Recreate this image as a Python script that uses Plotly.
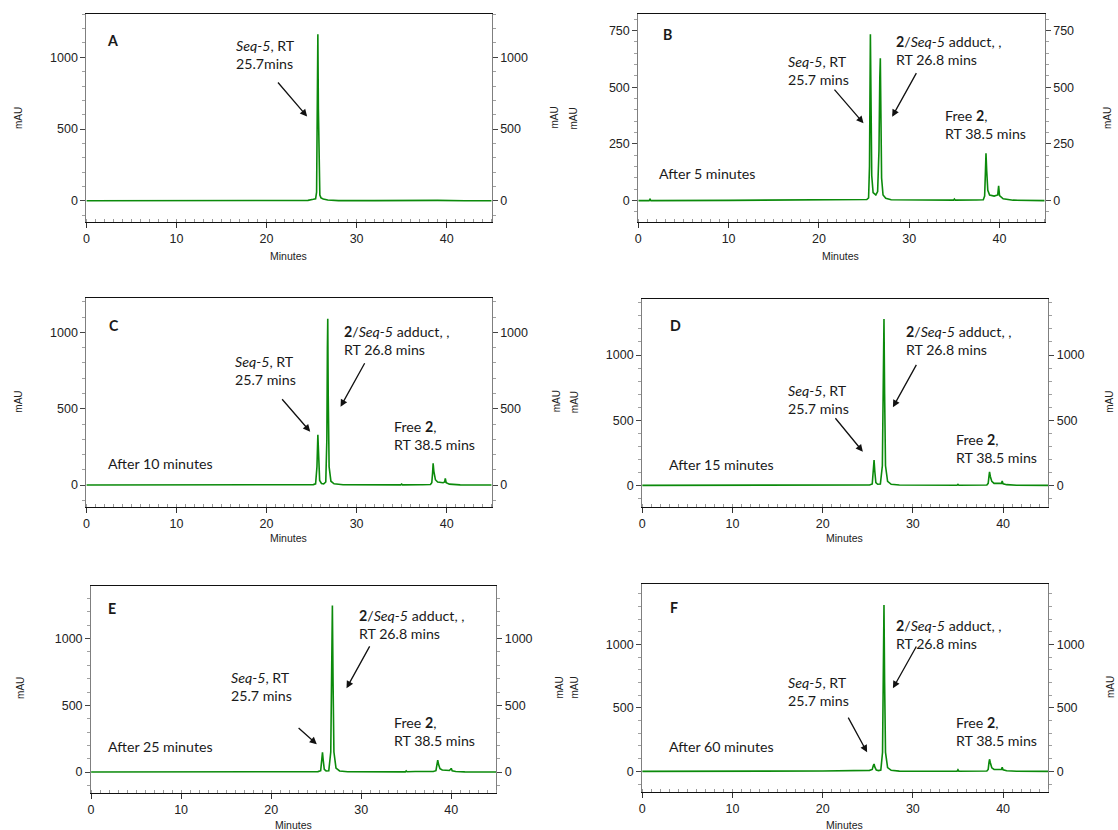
import plotly.graph_objects as go

# Retention times quoted in the peak labels (minutes)
RT_SEQ5 = 25.7
RT_ADDUCT = 26.8
RT_FREE2 = 38.5

# Chromatogram traces: retention time (min) and absorbance (mAU)
A_MIN = [0.0, 10.0, 20.0, 24.6, 25.2, 25.45, 25.56, 25.63, 25.7, 25.76, 25.83, 25.92, 26.05, 26.3, 26.8,
         28.0, 32.0, 35.0, 37.0, 39.0, 42.0, 45.0]
A_MAU = [0, 0, 1, 3, 10, 14, 60, 520, 1160, 640, 140, 40, 20, 12, 5,
         1, 1, 4, 6, 3, 0, 0]

B_MIN = [0.0, 1.2, 1.3, 1.4, 10.0, 20.0, 25.3, 25.5, 25.6, 25.65, 25.7, 25.76, 25.85, 26.0, 26.3, 26.5,
         26.65, 26.74, 26.8, 26.86, 26.94, 27.1, 27.4, 28.0, 34.9, 35.0, 35.1, 37.2, 37.3, 37.4, 38.2,
         38.35, 38.44, 38.5, 38.58, 38.7, 38.9, 39.4, 39.8, 39.9, 40.0, 40.4, 41.5, 45.0]
B_MAU = [0, 0, 6, 0, 1, 3, 5, 12, 150, 450, 734, 480, 110, 35, 25, 40,
         220, 540, 628, 400, 100, 25, 10, 4, 2, 7, 2, 3, 4, 3, 4,
         20, 130, 209, 130, 45, 25, 20, 25, 65, 22, 8, 2, 0]

C_MIN = [0.0, 10.0, 20.0, 25.2, 25.45, 25.6, 25.7, 25.78, 25.9, 26.1, 26.35, 26.58, 26.7, 26.76, 26.8,
         26.85, 26.95, 27.15, 27.5, 28.5, 34.9, 35.0, 35.1, 37.1, 37.2, 37.3, 38.2, 38.35, 38.44, 38.5,
         38.58, 38.75, 39.0, 39.6, 39.78, 39.85, 39.95, 40.3, 41.5, 45.0]
C_MAU = [0, 0, 1, 3, 8, 120, 330, 200, 30, 10, 8, 20, 300, 900, 1090,
         600, 120, 25, 8, 2, 1, 6, 1, 2, 4, 2, 3, 15, 80, 143,
         90, 35, 20, 15, 20, 44, 15, 6, 1, 0]

D_MIN = [0.0, 10.0, 20.0, 25.2, 25.5, 25.62, 25.7, 25.78, 25.9, 26.1, 26.4, 26.62, 26.72, 26.8, 26.87,
         26.97, 27.2, 27.6, 28.5, 34.9, 35.0, 35.1, 38.2, 38.35, 38.44, 38.5, 38.58, 38.75, 39.0, 39.7,
         39.83, 39.9, 40.0, 40.4, 41.5, 45.0]
D_MAU = [0, 0, 1, 3, 10, 100, 194, 110, 20, 8, 10, 150, 900, 1276, 700,
         150, 30, 8, 2, 1, 8, 1, 3, 15, 70, 104, 70, 30, 15, 12,
         15, 33, 12, 5, 1, 0]

E_MIN = [0.0, 10.0, 20.0, 25.2, 25.5, 25.62, 25.7, 25.78, 25.9, 26.1, 26.4, 26.62, 26.72, 26.8, 26.87,
         26.97, 27.2, 27.6, 28.5, 34.9, 35.0, 35.1, 36.0, 37.0, 38.0, 38.3, 38.42, 38.5, 38.58, 38.75,
         39.0, 39.8, 39.93, 40.0, 40.1, 40.5, 41.5, 45.0]
E_MAU = [0, 0, 1, 3, 10, 80, 148, 90, 20, 8, 10, 150, 900, 1248, 700,
         150, 30, 8, 2, 1, 8, 2, 4, 5, 4, 10, 60, 90, 60, 25,
         15, 12, 20, 28, 10, 4, 1, 0]

F_MIN = [0.0, 1.1, 1.2, 1.3, 10.0, 20.0, 25.2, 25.5, 25.62, 25.7, 25.78, 25.95, 26.2, 26.45, 26.64,
         26.74, 26.8, 26.87, 26.97, 27.2, 27.6, 28.5, 34.9, 35.0, 35.1, 38.2, 38.35, 38.44, 38.5, 38.58,
         38.75, 39.0, 39.7, 39.83, 39.9, 40.0, 40.4, 41.5, 45.0]
F_MAU = [0, 0, 4, 0, 1, 3, 8, 15, 45, 58, 35, 10, 6, 10, 150,
         900, 1313, 700, 150, 30, 8, 2, 1, 12, 1, 3, 15, 70, 95, 70,
         28, 15, 12, 15, 32, 12, 5, 1, 0]

PANEL_LETTERS = ["A", "B", "C", "D", "E", "F"]
ELAPSED_LABELS = [None, "After 5 minutes", "After 10 minutes", "After 15 minutes",
                  "After 25 minutes", "After 60 minutes"]
X_TICKS = [0, 10, 20, 30, 40]

traces = [(A_MIN, A_MAU), (B_MIN, B_MAU), (C_MIN, C_MAU),
          (D_MIN, D_MAU), (E_MIN, E_MAU), (F_MIN, F_MAU)]

W, H = 1118, 830

# Panel frames in pixels: (left, right, top, bottom)
frames = [
    (83.6, 490.0, 14.3, 221.7),
    (637.0, 1044.5, 14.3, 221.7),
    (83.6, 490.0, 298.3, 506.7),
    (640.9, 1048.0, 298.7, 506.7),
    (88.3, 494.6, 585.7, 792.7),
    (640.9, 1048.0, 584.0, 792.0),
]
y_ranges = [(-146, 1300), (-93, 822), (-142, 1224), (-164, 1432), (-155, 1397), (-163, 1478)]
y_dticks = [500, 250, 500, 500, 500, 500]
y_minor = [100, 50, 100, 100, 100, 100]

LABEL_FONT = "Lato"
TICK_FONT = dict(family="Liberation Sans, Arial", size=12.5, color="#222222")
TXT = "#1a1a1a"
GREEN = "#0b8a0b"
GREY_AXIS = "#7f7f7f"

fig = go.Figure()
layout = dict(width=W, height=H, margin=dict(l=0, r=0, t=0, b=0),
              paper_bgcolor="white", plot_bgcolor="white", showlegend=False)
annotations = []


def px_x(p):
    return p / W


def px_y(p):
    return 1 - p / H


for i, ((tmin, mau), (l, r, t, b)) in enumerate(zip(traces, frames)):
    n = i + 1
    xs = "" if n == 1 else str(n)
    ys_left = "" if n == 1 else str(n)
    ys_right = str(n + 6)
    fig.add_trace(go.Scatter(x=tmin, y=mau, mode="lines", xaxis="x" + xs, yaxis="y" + ys_left,
                             line=dict(color=GREEN, width=1.6), hoverinfo="skip"))
    # carrier for the right-hand mAU axis
    fig.add_trace(go.Scatter(x=tmin, y=mau, mode="lines", xaxis="x" + xs, yaxis="y" + ys_right,
                             line=dict(color=GREEN, width=0), opacity=0, hoverinfo="skip"))

    layout["xaxis" + xs] = dict(
        domain=[px_x(l), px_x(r)], anchor="y" + ys_left, range=[0, 45],
        tickvals=X_TICKS, ticks="outside", ticklen=5, tickcolor="#333333",
        showline=True, linecolor="#111111", linewidth=1, mirror=True,
        showgrid=False, zeroline=False, tickfont=TICK_FONT,
        minor=dict(dtick=1, ticks="inside", ticklen=3, tickcolor="#9a9a9a", showgrid=False),
    )
    axis_common = dict(
        range=list(y_ranges[i]), dtick=y_dticks[i], tick0=0, ticks="outside", ticklen=5,
        tickcolor="#444444", showline=True, linecolor=GREY_AXIS, linewidth=1,
        showgrid=False, zeroline=False, tickfont=TICK_FONT,
        minor=dict(dtick=y_minor[i], ticks="outside", ticklen=3, tickcolor="#a0a0a0", showgrid=False),
    )
    layout["yaxis" + ys_left] = dict(domain=[px_y(b), px_y(t)], anchor="x" + xs, side="left",
                                     **axis_common)
    layout["yaxis" + ys_right] = dict(overlaying="y" + ys_left, anchor="x" + xs, side="right",
                                      **axis_common)

# Axis captions (pixel positions)
minutes_pos = [(286, 255.7), (839.8, 255.7), (286, 538.3), (844, 538.3), (291.5, 825), (844, 825)]
for (mx, my) in minutes_pos:
    annotations.append(dict(text="Minutes", xref="paper", yref="paper", x=px_x(mx), y=px_y(my),
                            showarrow=False, xanchor="center", yanchor="middle",
                            font=dict(family="Liberation Sans, Arial", size=10.5, color="#222222")))
mau_pos = [(16, 118), (553, 118), (573, 118), (1108, 118),
           (16, 401.7), (555, 401.7), (573, 401.7), (1110, 401.7),
           (17, 688), (557, 688), (573, 687), (1110, 687)]
for (mx, my) in mau_pos:
    annotations.append(dict(text="mAU", xref="paper", yref="paper", x=px_x(mx), y=px_y(my),
                            showarrow=False, textangle=-90, xanchor="center", yanchor="middle",
                            font=dict(family="Liberation Sans, Arial", size=10, color="#222222")))

seq5_a = "<i>Seq-5</i>, RT<br>%smins" % RT_SEQ5
seq5 = "<i>Seq-5</i>, RT<br>%s mins" % RT_SEQ5
adduct = "<b>2</b>/<i>Seq-5</i> adduct, ,<br>RT %s mins" % RT_ADDUCT
free2 = "Free <b>2</b>,<br>RT %s mins" % RT_FREE2

# Per-panel annotation placement in data units (minutes, mAU)
panel_text = [
    dict(letter=(2.1, 1115), seq=(16.36, 1017), seq_arrow=((21.13, 835), (24.51, 587)),
         adduct=None, free=None, after=None),
    dict(letter=(2.49, 734), seq=(16.32, 574), seq_arrow=((21.58, 496), (24.94, 341)),
         adduct=(28.31, 664), adduct_arrow=((30.88, 569), (28.11, 370)),
         free=(33.73, 337), after=(2.07, 121)),
    dict(letter=(2.26, 1049), seq=(16.33, 749), seq_arrow=((21.59, 572), (24.85, 350)),
         adduct=(28.34, 945), adduct_arrow=((30.99, 808), (28.22, 513)),
         free=(33.89, 322), after=(2.14, 138)),
    dict(letter=(2.85, 1230), seq=(15.9, 661), seq_arrow=((21.28, 526), (24.46, 258)),
         adduct=(28.98, 1109), adduct_arrow=((30.48, 936), (27.79, 599)),
         free=(34.57, 280), after=(2.73, 163)),
    dict(letter=(1.63, 1228), seq=(15.34, 644), seq_arrow=((22.88, 340), (25.07, 208)),
         adduct=(29.56, 1103), adduct_arrow=((31.03, 953), (28.37, 628)),
         free=(33.46, 304), after=(1.63, 190)),
    dict(letter=(2.82, 1291), seq=(15.9, 632), seq_arrow=((22.75, 436), (24.93, 150)),
         adduct=(27.91, 1082), adduct_arrow=((30.48, 997), (27.79, 655)),
         free=(34.57, 316), after=(2.73, 194)),
]

font_txt = dict(family=LABEL_FONT, size=14.2, color=TXT)


def text_note(n, pos, text, bold=False):
    xs = "x" if n == 1 else "x%d" % n
    ys = "y" if n == 1 else "y%d" % n
    return dict(text=text, x=pos[0], y=pos[1], xref=xs, yref=ys, showarrow=False,
                xanchor="left", yanchor="middle", align="left", font=font_txt)


def arrow_note(n, tail, head):
    xs = "x" if n == 1 else "x%d" % n
    ys = "y" if n == 1 else "y%d" % n
    return dict(text="", x=head[0], y=head[1], ax=tail[0], ay=tail[1], xref=xs, yref=ys,
                axref=xs, ayref=ys, showarrow=True, arrowhead=2, arrowsize=1.1,
                arrowwidth=1.3, arrowcolor="#111111", standoff=0, startstandoff=0)


for i, p in enumerate(panel_text):
    n = i + 1
    annotations.append(text_note(n, p["letter"], "<b>%s</b>" % PANEL_LETTERS[i]))
    annotations.append(text_note(n, p["seq"], seq5_a if n == 1 else seq5))
    annotations.append(arrow_note(n, *p["seq_arrow"]))
    if p.get("adduct"):
        annotations.append(text_note(n, p["adduct"], adduct))
        annotations.append(arrow_note(n, *p["adduct_arrow"]))
    if p.get("free"):
        annotations.append(text_note(n, p["free"], free2))
    if p.get("after"):
        annotations.append(text_note(n, p["after"], ELAPSED_LABELS[i]))

layout["annotations"] = annotations
fig.update_layout(**layout)
fig.write_html("out.html")
